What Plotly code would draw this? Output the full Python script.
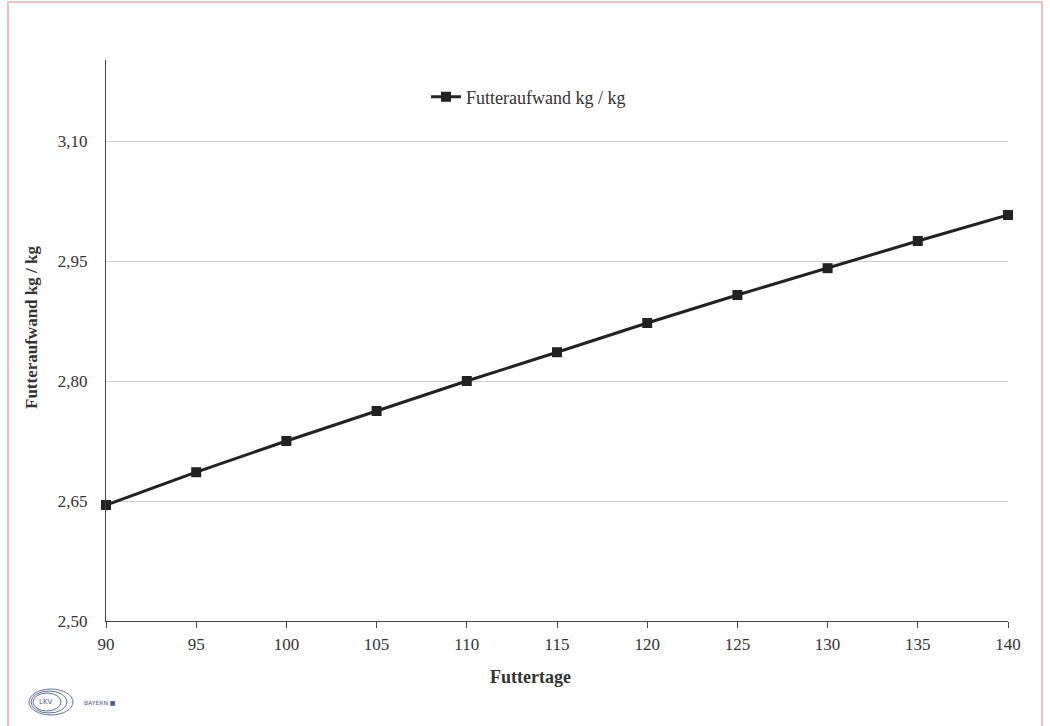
import plotly.graph_objects as go

futtertage = [90, 95, 100, 105, 110, 115, 120, 125, 130, 135, 140]
futteraufwand = [2.645, 2.686, 2.725, 2.7625, 2.800, 2.836, 2.8725, 2.9075, 2.941, 2.975, 3.0075]
y_ticks = [2.50, 2.65, 2.80, 2.95, 3.10]
y_tick_labels = ["2,50", "2,65", "2,80", "2,95", "3,10"]
x_ticks = [90, 95, 100, 105, 110, 115, 120, 125, 130, 135, 140]

FONT = "Liberation Serif"
TXT = "#333333"
PW, PH = 902, 561
L, T = 106, 60

def px(x):
    return (x - L) / PW

def py(y):
    return (T + PH - y) / PH

fig = go.Figure()
fig.add_trace(go.Scatter(
    x=futtertage, y=futteraufwand, mode="lines+markers",
    name="Futteraufwand kg / kg",
    line=dict(color="#222222", width=3),
    marker=dict(symbol="square", size=10, color="#222222"),
    cliponaxis=False,
))

fig.update_layout(
    width=1050, height=726,
    paper_bgcolor="white", plot_bgcolor="white",
    margin=dict(l=106, r=42, t=60, b=105, autoexpand=False),
    font=dict(family=FONT, size=17, color=TXT),
    showlegend=True,
    legend=dict(x=px(426), y=py(97), xref="paper", yref="paper", xanchor="left", yanchor="middle",
                font=dict(family=FONT, size=18, color=TXT), bgcolor="rgba(0,0,0,0)",
                itemwidth=30),
    xaxis=dict(range=[90, 140], tickvals=x_ticks, showgrid=False, showline=True,
               linecolor="#444444", linewidth=1, ticks="outside", ticklen=6,
               tickcolor="#444444", zeroline=False, tickfont=dict(size=17, color=TXT),
               ticklabelstandoff=2),
    yaxis=dict(range=[2.5, 3.20125], tickvals=y_ticks, ticktext=y_tick_labels,
               showgrid=True, gridcolor="#d0d0d0", gridwidth=1, showline=True,
               linecolor="#444444", linewidth=1, ticks="", zeroline=False,
               tickfont=dict(size=17, color=TXT), ticklabelstandoff=14),
    shapes=[
        dict(type="rect", xref="paper", yref="paper", x0=px(8), x1=px(1042), y0=py(740), y1=py(2),
             line=dict(color="#f2c0c0", width=2), fillcolor="rgba(0,0,0,0)", layer="below"),
    ],
    annotations=[
        dict(text="<b>Futtertage</b>", xref="paper", yref="paper", x=px(530), y=py(677),
             showarrow=False, font=dict(family=FONT, size=18, color=TXT), xanchor="center", yanchor="middle"),
        dict(text="<b>Futteraufwand kg / kg</b>", xref="paper", yref="paper", x=px(32), y=py(328),
             showarrow=False, textangle=-90, font=dict(family=FONT, size=17, color=TXT),
             xanchor="center", yanchor="middle"),
        dict(text="LKV", xref="paper", yref="paper", x=px(45), y=py(702),
             showarrow=False, font=dict(family="DejaVu Sans", size=7, color="#4a5a8a"),
             xanchor="center", yanchor="middle"),
        dict(text="BAYERN ■", xref="paper", yref="paper", x=px(100), y=py(702),
             showarrow=False, font=dict(family="DejaVu Sans", size=6, color="#4a5a8a"),
             xanchor="center", yanchor="middle"),
    ],
)
# small logo ellipses
for i, (w, h) in enumerate([(14, 9), (18, 11), (22, 13)]):
    cx, cy = 47 + i * 2, 702
    fig.add_shape(type="circle", xref="paper", yref="paper",
                  x0=px(cx - w), x1=px(cx + w),
                  y0=py(cy + h), y1=py(cy - h),
                  line=dict(color="#6070a0", width=1))

fig.write_html("out.html")
